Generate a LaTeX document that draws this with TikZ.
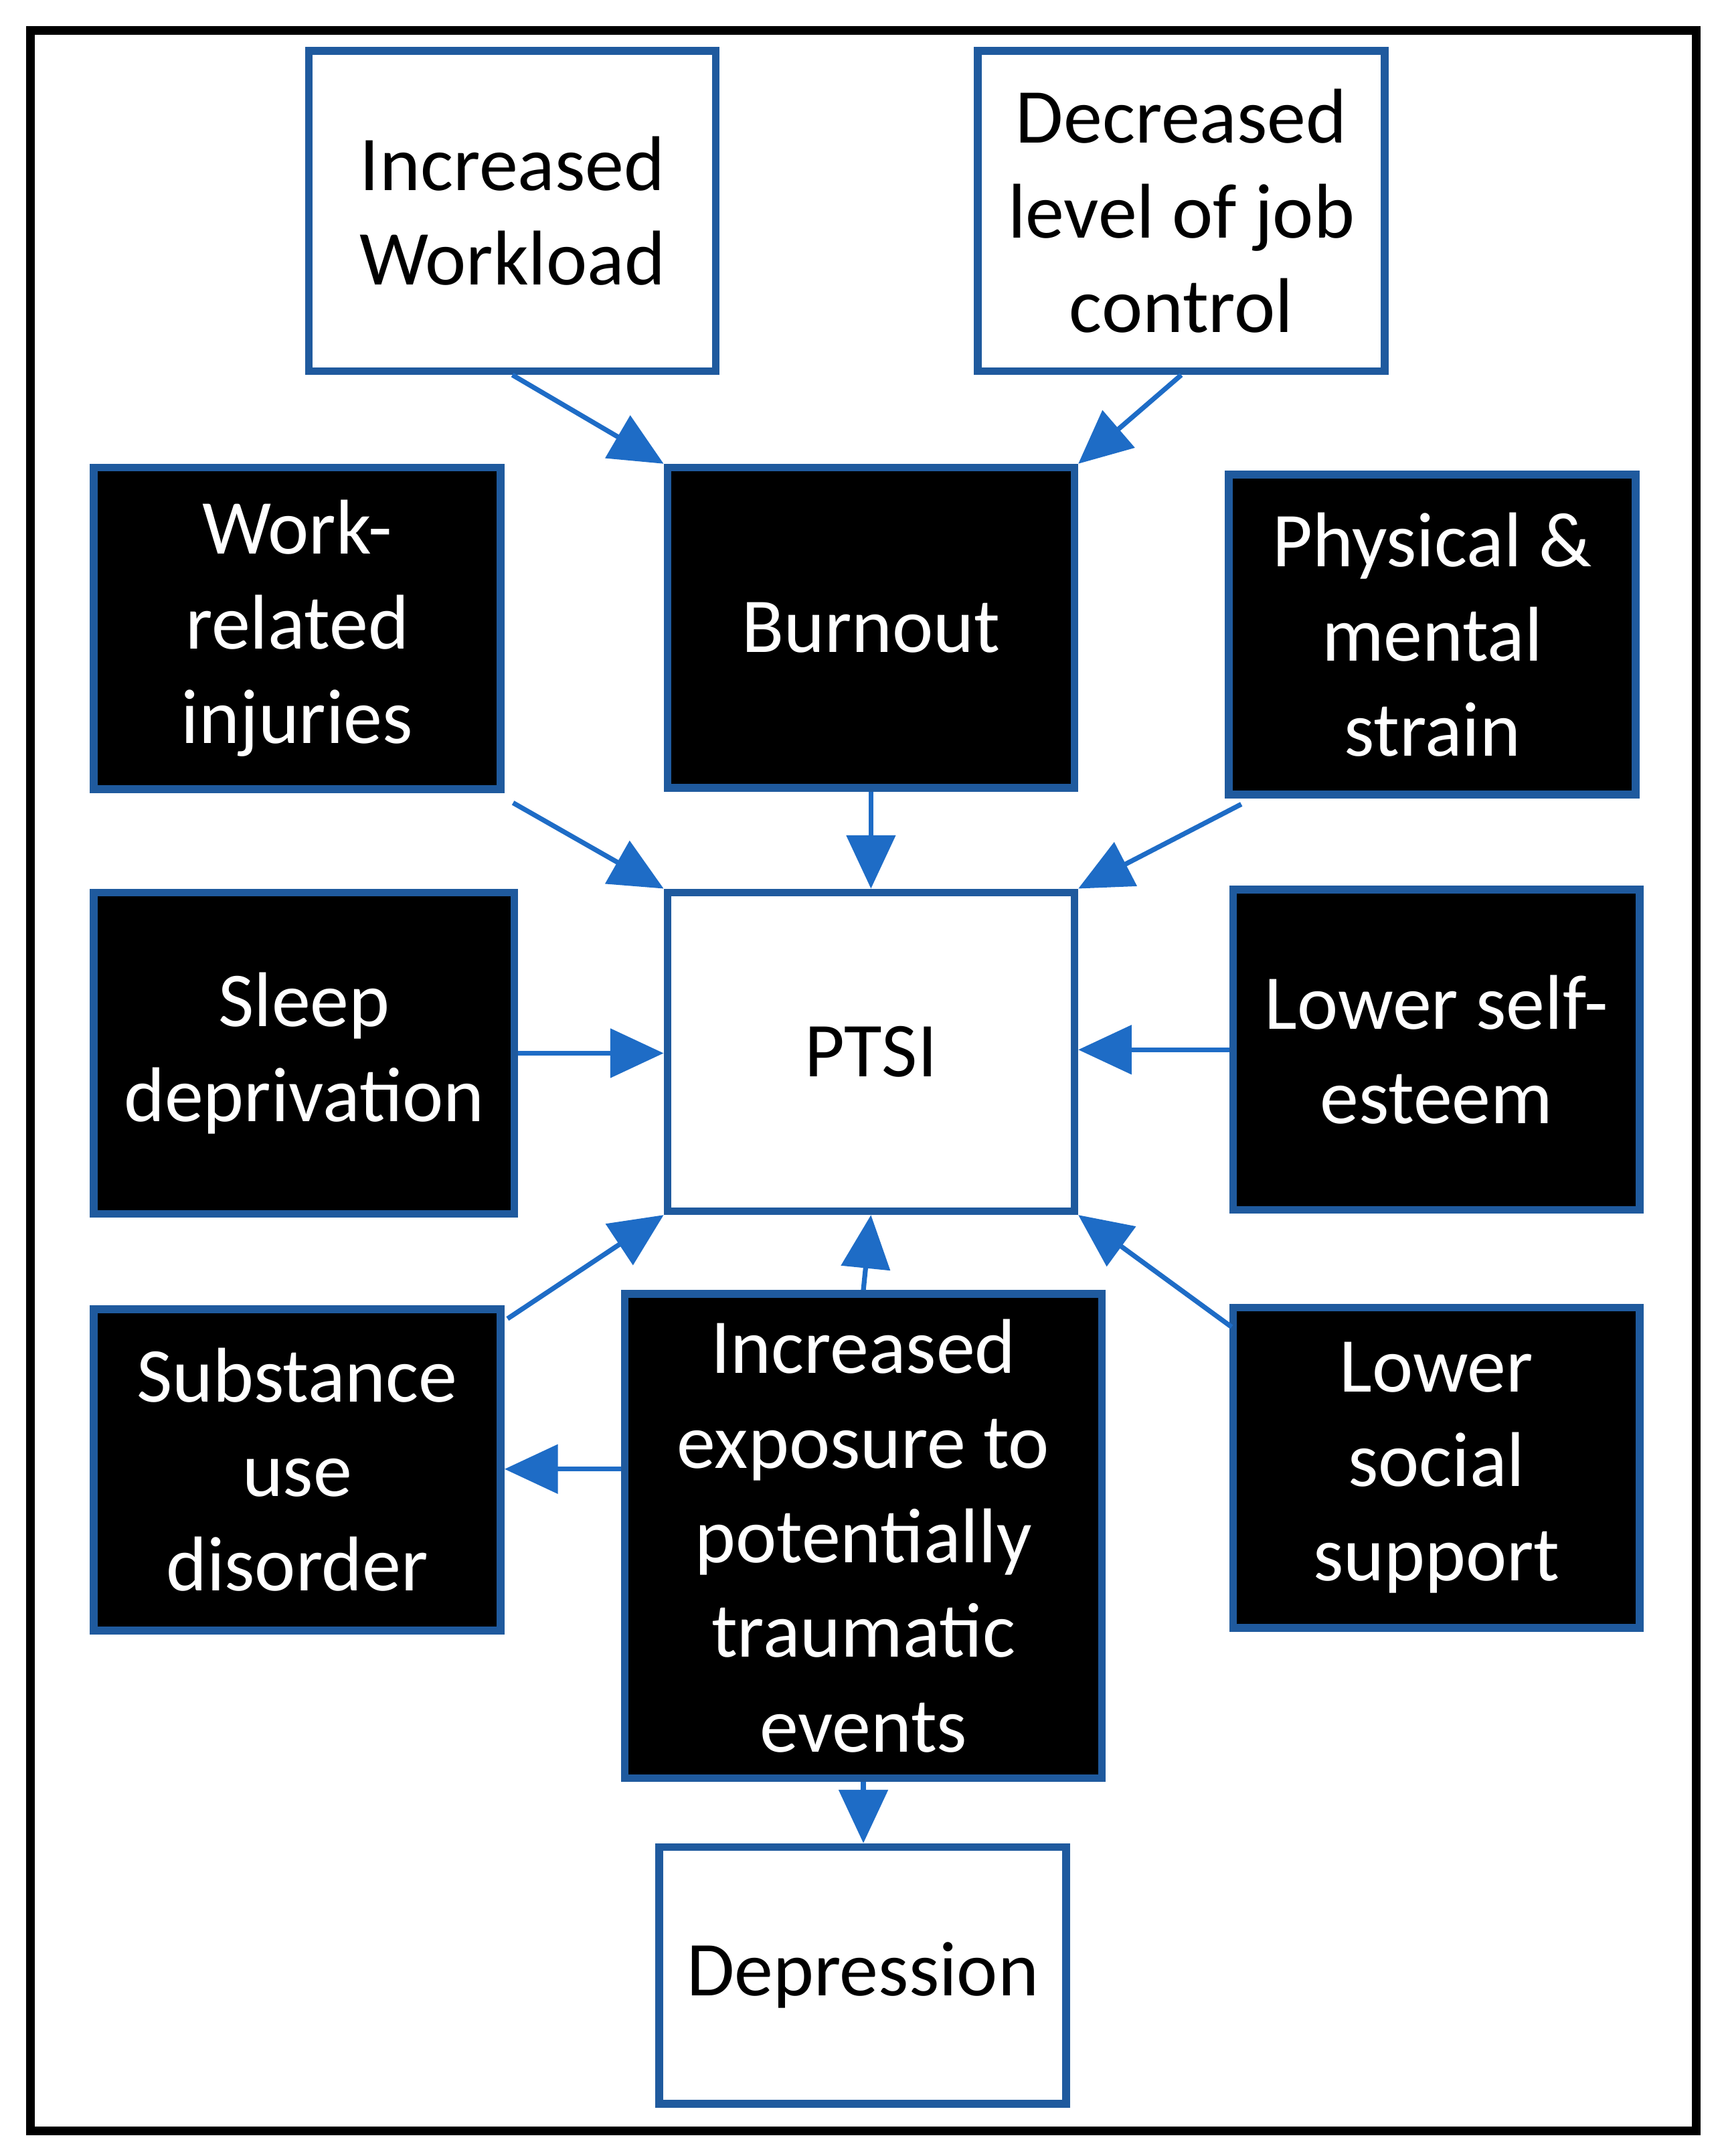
\documentclass[tikz,border=0pt]{standalone}
\usepackage{fontspec}
\setmainfont{Carlito}
\usetikzlibrary{arrows.meta}
\definecolor{bord}{HTML}{1F5A9E}
\definecolor{arr}{HTML}{1E6CC6}
\begin{document}
\begin{tikzpicture}[x=0.01cm,y=-0.01cm,
 base/.style={draw=bord,line width=1.6pt,align=center,inner sep=0pt,font=\fontsize{16}{19.5}\selectfont},
 wbox/.style={base,fill=white,text=black},
 bbox/.style={base,fill=black,text=white},
 ar/.style={draw=arr,line width=1pt,-{Triangle[length=11pt,width=10pt]}}]
\useasboundingbox (0,0) rectangle (1250,1563);
\draw[line width=1.8pt] (22,22) rectangle (1230,1545);
\newcommand\bx[7]{\node[#6,minimum width={(#4-#2)*0.01cm},minimum height={(#5-#3)*0.01cm}] (#1) at ({(#2+#4)/2},{(#3+#5)/2}) {#7};}
\bx{wl}{224}{37}{519}{269}{wbox}{Increased\\Workload}
\bx{dj}{709}{37}{1004}{269}{wbox}{Decreased\\level of job\\control}
\bx{bo}{484}{339}{779}{571}{bbox}{Burnout}
\bx{wr}{68}{339}{363}{572}{bbox}{Work-\\related\\injuries}
\bx{pm}{891}{344}{1186}{576}{bbox}{Physical \&\\mental\\strain}
\bx{sd}{68}{647}{373}{880}{bbox}{Sleep\\deprivation}
\bx{pt}{484}{647}{779}{878}{wbox}{PTSI}
\bx{ls}{894}{645}{1189}{877}{bbox}{Lower self-\\esteem}
\bx{su}{68}{949}{363}{1182}{bbox}{Substance\\use\\disorder}
\bx{ex}{453}{938}{799}{1289}{bbox}{Increased\\exposure to\\potentially\\traumatic\\events}
\bx{lo}{894}{948}{1189}{1180}{bbox}{Lower\\social\\support}
\bx{de}{478}{1339}{773}{1525}{wbox}{Depression}
\coordinate (wra) at (372,582);
\coordinate (pma) at (900,583);
\coordinate (sua) at (368,956);
\coordinate (loa) at (893,962);
\draw[ar] (wl.south) -- (bo.north west);
\draw[ar] (dj.south) -- (bo.north east);
\draw[ar] (bo.south) -- (pt.north);
\draw[ar] (wra) -- (pt.north west);
\draw[ar] (pma) -- (pt.north east);
\draw[ar] (sd.east) -- (pt.west |- sd.east);
\draw[ar] (ls.west) -- (pt.east |- ls.west);
\draw[ar] (sua) -- (pt.south west);
\draw[ar] (ex.north) -- (pt.south);
\draw[ar] (loa) -- (pt.south east);
\draw[ar] (ex.west |- 0,1065) -- (su.east |- 0,1065);
\draw[ar] (ex.south) -- (ex.south |- de.north);
\end{tikzpicture}
\end{document}
